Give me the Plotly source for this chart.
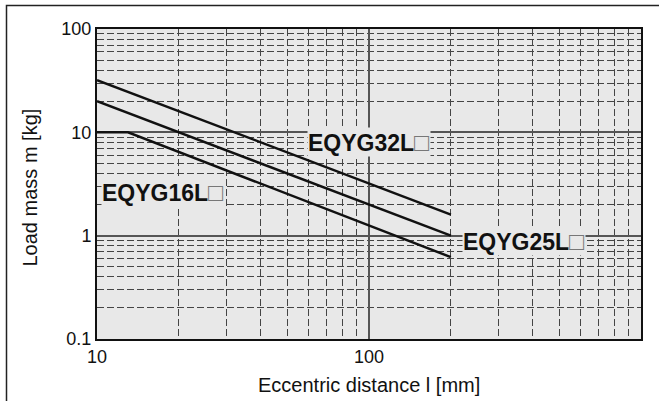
import plotly.graph_objects as go

# ---- data ----
x_32 = [10, 200]
m_32 = [32, 1.6]
x_25 = [10, 200]
m_25 = [20, 1.0]
x_16 = [10, 13, 200]
m_16 = [10, 10, 0.62]

x_tickvals = [10, 100, 1000]
x_ticktext = ["10", "100", "1000"]
y_tickvals = [0.1, 1, 10, 100]
y_ticktext = ["0.1", "1", "10", "100"]

labels = ["EQYG32L", "EQYG16L", "EQYG25L"]

FONT = "Liberation Sans, Arial, Helvetica, sans-serif"
W, H = 659, 401
ML, MR, MT, MB = 97, 18, 29, 62
PW, PH = W - ML - MR, H - MT - MB

def px_x(p):
    return (p - ML) / PW

def px_y(p):
    return (H - MB - p) / PH

fig = go.Figure()
for xs, ys in [(x_32, m_32), (x_25, m_25), (x_16, m_16)]:
    fig.add_trace(go.Scatter(x=xs, y=ys, mode="lines",
                             line=dict(color="#111111", width=2.5),
                             showlegend=False, hoverinfo="skip"))

grid_minor = dict(dtick="D1", showgrid=True, gridcolor="#444444",
                  gridwidth=1.2, griddash="7px,3px", ticks="")

fig.update_xaxes(type="log", range=[1, 3], tickvals=x_tickvals, ticktext=x_ticktext,
                 showgrid=True, gridcolor="#555555", gridwidth=1.5,
                 showline=True, linecolor="#111111", linewidth=2, mirror=True,
                 ticks="", zeroline=False, minor=grid_minor,
                 tickfont=dict(family=FONT, size=18, color="#111111"))
fig.update_yaxes(type="log", range=[-1, 2], tickvals=y_tickvals, ticktext=y_ticktext,
                 showgrid=True, gridcolor="#555555", gridwidth=1.5,
                 showline=True, linecolor="#111111", linewidth=2, mirror=True,
                 ticks="", zeroline=False, minor=grid_minor,
                 tickfont=dict(family=FONT, size=18, color="#111111"))

box = '<span style="color:#777777;font-size:25px">\u25a1</span>'
label_pos = [(307, 141.5), (101, 192), (462, 241)]
for lab, (lx, ly) in zip(labels, label_pos):
    fig.add_annotation(xref="paper", yref="paper", x=px_x(lx), y=px_y(ly),
                       xanchor="left", yanchor="middle", showarrow=False,
                       text="<b>" + lab + "</b>" + box, bgcolor="#e8e8e8", borderpad=0,
                       font=dict(family=FONT, size=23, color="#111111"))

fig.add_annotation(xref="paper", yref="paper", x=0.5, y=px_y(385),
                   xanchor="center", yanchor="middle", showarrow=False,
                   text="Eccentric distance l [mm]",
                   font=dict(family=FONT, size=20, color="#111111"))
fig.add_annotation(xref="paper", yref="paper", x=px_x(30), y=px_y(187.5),
                   xanchor="center", yanchor="middle", showarrow=False, textangle=-90,
                   text="Load mass m [kg]",
                   font=dict(family=FONT, size=20, color="#111111"))

# outer frame (left and top edges visible)
fig.add_shape(type="rect", xref="paper", yref="paper",
              x0=px_x(6.5), y0=px_y(420), x1=px_x(680), y1=px_y(5.5),
              line=dict(color="#222222", width=1.5), layer="above")

fig.update_layout(width=W, height=H, margin=dict(l=ML, r=MR, t=MT, b=MB, autoexpand=False),
                  paper_bgcolor="white", plot_bgcolor="#e8e8e8",
                  font=dict(family=FONT, color="#111111"))

fig.write_html("out.html", config={"displayModeBar": False},
               post_script="document.body.style.margin='0';document.body.style.overflow='hidden';")
